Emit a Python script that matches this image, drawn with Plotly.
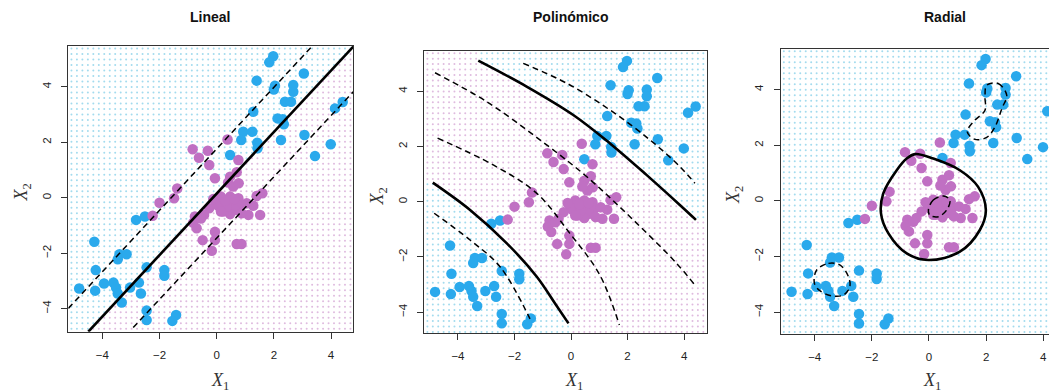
import numpy as np
import plotly.graph_objects as go

# ---------------- data ----------------
blue_x = [1.98, 1.84, 1.40, 3.05, 2.04, 2.00, 2.68, 2.68, 1.28, 2.39, 2.60, 2.13, 2.31, 2.35,
          4.41, 4.14, 3.07, 0.93, 1.25, 0.86, 2.25, 1.42, 1.43, 3.99, 3.44, 0.47,
          -4.28, -2.51, -2.82, -3.40, -3.15, -3.46, -4.23, -2.45, -1.83, -1.83, -4.81, -4.25,
          -3.94, -3.61, -3.52, -3.46, -3.03, -2.72, -2.65, -3.32, -2.45, -2.45, -1.42, -1.55]
blue_y = [5.10, 4.88, 4.22, 4.48, 4.04, 3.90, 4.06, 3.82, 3.10, 3.46, 3.46, 2.86, 2.83, 2.65,
          3.45, 3.22, 2.26, 2.38, 2.38, 2.08, 2.08, 1.98, 1.78, 1.93, 1.50, 1.54,
          -1.59, -0.68, -0.80, -2.04, -2.04, -2.22, -2.61, -2.51, -2.61, -2.81, -3.27, -3.35,
          -3.09, -3.06, -3.24, -3.45, -3.24, -3.06, -3.45, -3.78, -4.07, -4.41, -4.23, -4.44]

purple_x = [-0.84, -0.31, -0.62, -0.26, 0.38, 0.76, -0.06, 0.47, 0.58, 0.77, 0.70, 0.40,
            -1.38, -1.49, -2.00, -2.24, 0.15, -0.02, 0.06, -0.26, -0.44, -0.76, -0.82, -0.70,
            -0.49, -0.06, -0.06, -0.17, 0.47, 0.58, 0.76, 0.82, 0.64, 0.47, 0.23, 1.05,
            1.11, 1.28, 1.52, 1.40, 1.60, 0.70, 0.87, 0.35, 0.15, 0.87, -0.12, 0.30, -0.55, 0.62]
purple_y = [1.75, 1.69, 1.44, 1.18, 2.10, 1.36, 0.70, 0.76, 0.40, 0.52, 0.92, 0.55,
            0.33, -0.02, -0.18, -0.65, 0.04, -0.20, -0.30, -0.38, -0.62, -0.68, -0.90, -1.10,
            -1.53, -1.23, -1.53, -1.91, 0.04, -0.20, -0.02, -0.26, -0.44, -0.59, -0.50, -0.20,
            -0.62, -0.29, -0.62, 0.06, 0.16, -1.67, -1.67, -0.32, -0.50, -0.56, -0.05, -0.10, -0.75, -0.05]

# Linear SVM: decision line and margins (end points)
lin_solid_x = [-4.49, 4.78]
lin_solid_y = [-4.83, 5.45]
lin_upper_x = [-5.19, 3.32]
lin_upper_y = [-3.99, 5.44]
lin_lower_x = [-2.92, 4.78]
lin_lower_y = [-4.68, 3.82]

# Polynomial SVM: two boundary branches and four margin curves
poly_b1_x = [-3.28, -1.57, 0.08, 1.38, 2.67, 3.85, 4.42]
poly_b1_y = [5.11, 4.17, 3.14, 2.11, 0.97, -0.12, -0.66]
poly_b2_x = [-4.89, -3.57, -2.27, -1.21, -0.57, -0.09]
poly_b2_y = [0.69, -0.30, -1.51, -2.72, -3.68, -4.41]
poly_m1_x = [-1.69, -0.15, 1.38, 2.79, 3.85, 4.38]
poly_m1_y = [5.01, 4.29, 3.32, 2.24, 1.27, 0.67]
poly_m2_x = [-4.81, -2.98, -1.10, 0.55, 2.20, 3.73, 4.38]
poly_m2_y = [4.67, 3.62, 2.24, 0.91, -0.66, -2.23, -3.02]
poly_m3_x = [-4.72, -2.75, -1.21, -0.04, 1.02, 1.71]
poly_m3_y = [2.30, 1.33, 0.30, -1.15, -2.66, -4.47]
poly_m4_x = [-4.84, -3.57, -2.51, -1.45]
poly_m4_y = [-0.42, -1.39, -2.36, -4.25]

# Radial SVM: closed boundary and three margin loops
rad_b_x = [-0.49, 0.15, 1.08, 1.72, 1.99, 1.78, 1.08, -0.02, -0.78, -1.42, -1.68, -1.60, -1.13, -0.78, -0.49]
rad_b_y = [1.68, 1.52, 1.10, 0.50, -0.33, -1.05, -1.83, -2.13, -1.89, -1.17, -0.45, 0.27, 1.10, 1.52, 1.68]
rad_m1_x = [2.02, 2.42, 2.72, 2.55, 2.31, 2.02, 1.61, 1.34, 1.55, 1.96, 1.96, 2.02]
rad_m1_y = [4.16, 4.22, 3.80, 3.32, 2.66, 2.28, 2.21, 2.48, 2.84, 3.26, 3.74, 4.16]
rad_m2_x = [-3.93, -3.52, -3.11, -2.82, -2.77, -3.00, -3.40, -3.81, -4.01, -3.93]
rad_m2_y = [-2.49, -2.25, -2.31, -2.73, -3.09, -3.39, -3.42, -3.24, -2.97, -2.49]
rad_m3_x = [-0.02, 0.15, 0.50, 0.73, 0.62, 0.33, 0.03, -0.02]
rad_m3_y = [-0.33, 0.03, 0.17, 0.03, -0.33, -0.57, -0.52, -0.33]

titles = ["Lineal", "Polinómico", "Radial"]
tick_vals = [-4, -2, 0, 2, 4]
tick_text = ["\u22124", "\u22122", "0", "2", "4"]

# ---------------- styling ----------------
OFF = 8                       # page body margin of the html page
W, H = 1057 - OFF, 392 - OFF  # figure size so that it ends at the window edge
BLUE = "#2aa9ec"
PURPLE = "#c070c3"
GRID_BLUE = "#a3dbee"
GRID_PURPLE = "#dfbbdf"


def px_x(p):
    return (p - OFF) / W


def px_y(p):
    return (H - (p - OFF)) / H


# panel boxes in window pixels: (left, right, top, bottom)
boxes = [(68.3, 353.3, 45.7, 331.7), (424.3, 706.7, 50.7, 333.3), (780.7, 1057.0, 49.0, 334.0)]
xranges = [[-5.19, 4.78], [-5.19, 4.80], [-5.19, 4.48]]
yranges = [[-4.83, 5.48], [-4.77, 5.47], [-4.79, 5.46]]

gx1 = np.linspace(-5.08, 4.68, 52)
gy1 = np.linspace(-4.72, 5.38, 52)
GX, GY = np.meshgrid(gx1, gy1)
GX = GX.ravel()
GY = GY.ravel()


def in_poly(px, py, vx, vy):
    vx = np.asarray(vx)
    vy = np.asarray(vy)
    inside = np.zeros(px.shape, dtype=bool)
    n = len(vx)
    j = n - 1
    for i in range(n):
        cond = ((vy[i] > py) != (vy[j] > py))
        xint = (vx[j] - vx[i]) * (py - vy[i]) / (vy[j] - vy[i] + 1e-12) + vx[i]
        inside ^= cond & (px < xint)
        j = i
    return inside


# class of grid points (True = blue)
slope = (lin_solid_y[1] - lin_solid_y[0]) / (lin_solid_x[1] - lin_solid_x[0])
icpt = lin_solid_y[0] - slope * lin_solid_x[0]
cls_lin = GY > slope * GX + icpt
up = np.interp(GX, poly_b1_x, poly_b1_y, left=np.inf)
lo = np.interp(GX, poly_b2_x, poly_b2_y, right=-np.inf)
cls_poly = (GY > up) | (GY < lo)
cls_rad = ~in_poly(GX, GY, rad_b_x, rad_b_y)
classes = [cls_lin, cls_poly, cls_rad]

fig = go.Figure()

line_sets = [
    [(lin_solid_x, lin_solid_y, "solid"), (lin_upper_x, lin_upper_y, "dash"), (lin_lower_x, lin_lower_y, "dash")],
    [(poly_b1_x, poly_b1_y, "solid"), (poly_b2_x, poly_b2_y, "solid"), (poly_m1_x, poly_m1_y, "dash"),
     (poly_m2_x, poly_m2_y, "dash"), (poly_m3_x, poly_m3_y, "dash"), (poly_m4_x, poly_m4_y, "dash")],
    [(rad_b_x, rad_b_y, "solid"), (rad_m1_x, rad_m1_y, "dash"), (rad_m2_x, rad_m2_y, "dash"),
     (rad_m3_x, rad_m3_y, "dash")],
]

for k in range(3):
    sfx = "" if k == 0 else str(k + 1)
    xa, ya = "x" + sfx, "y" + sfx
    c = classes[k]
    fig.add_trace(go.Scatter(x=GX[c], y=GY[c], mode="markers", xaxis=xa, yaxis=ya,
                             marker=dict(size=2.0, color=GRID_BLUE), hoverinfo="skip", showlegend=False))
    fig.add_trace(go.Scatter(x=GX[~c], y=GY[~c], mode="markers", xaxis=xa, yaxis=ya,
                             marker=dict(size=2.0, color=GRID_PURPLE), hoverinfo="skip", showlegend=False))
    fig.add_trace(go.Scatter(x=blue_x, y=blue_y, mode="markers", xaxis=xa, yaxis=ya,
                             marker=dict(size=10.5, color=BLUE), showlegend=False))
    fig.add_trace(go.Scatter(x=purple_x, y=purple_y, mode="markers", xaxis=xa, yaxis=ya,
                             marker=dict(size=10.5, color=PURPLE), showlegend=False))
    for lx, ly, st in line_sets[k]:
        if st == "solid":
            ln = dict(color="black", width=2.6, shape="spline", smoothing=1.0)
        else:
            ln = dict(color="black", width=1.5, dash="6px,4px", shape="spline", smoothing=1.0)
        fig.add_trace(go.Scatter(x=lx, y=ly, mode="lines", xaxis=xa, yaxis=ya, line=ln,
                                 hoverinfo="skip", showlegend=False))

    l, r, t, b = boxes[k]
    axis_common = dict(showgrid=False, zeroline=False, showline=True, linecolor="#333",
                       linewidth=1.3, ticks="outside", ticklen=6, tickcolor="#333",
                       tickvals=tick_vals, ticktext=tick_text, ticklabelstandoff=6,
                       tickfont=dict(family="Liberation Sans, Arial", size=11.5, color="#222"))
    fig.layout["xaxis" + sfx] = dict(domain=[px_x(l), min(1.0, px_x(r))], range=xranges[k], anchor=ya,
                                     mirror=True, **axis_common)
    fig.layout["yaxis" + sfx] = dict(domain=[px_y(b), px_y(t)], range=yranges[k], anchor=xa,
                                     mirror=(k < 2), tickangle=-90, **axis_common)

    # title
    cx = [210, 570, 945][k]
    fig.add_annotation(text="<b>" + titles[k] + "</b>", xref="paper", yref="paper",
                       x=px_x(cx), y=px_y(17), xanchor="center", yanchor="middle", showarrow=False,
                       font=dict(family="Liberation Sans, Arial", size=14, color="#111"))
    # axis titles
    fig.add_annotation(text="<i>X</i><sub>1</sub>", xref=xa, yref="paper", x=0.1, y=px_y(381),
                       xanchor="center", yanchor="middle",
                       showarrow=False, font=dict(family="Liberation Serif, serif", size=18, color="#333"))
    fig.add_annotation(text="<i>X</i><sub>2</sub>", xref="paper", yref=ya, x=px_x(l - 46), y=0.2,
                       xanchor="center", yanchor="middle",
                       textangle=-90, showarrow=False,
                       font=dict(family="Liberation Serif, serif", size=18, color="#333"))

fig.update_layout(width=W, height=H, margin=dict(l=0, r=0, t=0, b=0),
                  paper_bgcolor="white", plot_bgcolor="white")
fig.write_html("out.html")
